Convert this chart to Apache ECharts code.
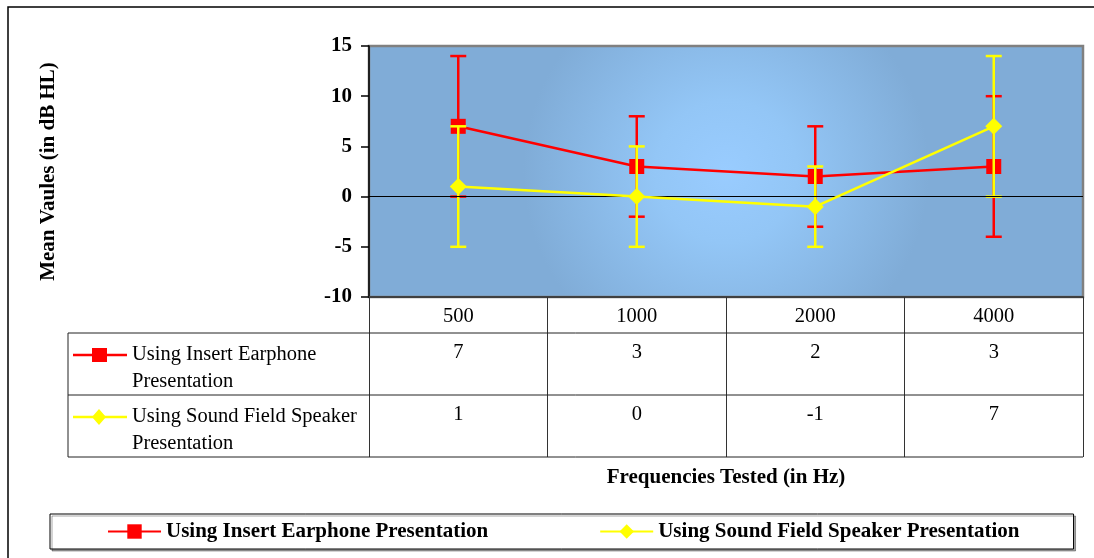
<!DOCTYPE html>
<html>
<head>
<meta charset="utf-8">
<script src="https://cdn.jsdelivr.net/npm/echarts@6/dist/echarts.min.js"></script>
<style>
html,body{margin:0;padding:0;background:#fff;}
#chart{width:1094px;height:558px;}
</style>
</head>
<body>
<div id="chart"></div>
<script>
// ---- data ----
const categories = ['500', '1000', '2000', '4000'];
const earphoneMean = [7, 3, 2, 3];
const earphoneErr = [7, 5, 5, 7];
const speakerMean = [1, 0, -1, 7];
const speakerErr = [6, 5, 4, 7];
const seriesNames = ['Using Insert Earphone Presentation', 'Using Sound Field Speaker Presentation'];
const tableRowLabels = [['Using Insert Earphone', 'Presentation'], ['Using Sound Field Speaker', 'Presentation']];
const yMin = -10, yMax = 15, yInterval = 5;
const yTitle = 'Mean Vaules (in dB HL)';
const xTitle = 'Frequencies Tested (in Hz)';

// ---- style ----
const SERIF = '"Liberation Serif", "Times New Roman", serif';
const RED = '#FF0000';
const YEL = '#FFFF00';
const GRID = { left: 369, top: 46, right: 11, bottom: 261 };
const BOLD_SIZE = 21;
const REG_SIZE = 20.5;

function errData(mean, err) {
  return mean.map((m, i) => [i, m - err[i], m + err[i]]);
}

function errRender(color) {
  return function (params, api) {
    const x = api.value(0);
    const lo = api.coord([x, api.value(1)]);
    const hi = api.coord([x, api.value(2)]);
    const w = 8;
    const style = { stroke: color, lineWidth: 2.5 };
    return {
      type: 'group',
      children: [
        { type: 'line', shape: { x1: hi[0], y1: hi[1], x2: lo[0], y2: lo[1] }, style },
        { type: 'line', shape: { x1: hi[0] - w, y1: hi[1], x2: hi[0] + w, y2: hi[1] }, style },
        { type: 'line', shape: { x1: lo[0] - w, y1: lo[1], x2: lo[0] + w, y2: lo[1] }, style }
      ]
    };
  };
}

const chart = echarts.init(document.getElementById('chart'), null, { renderer: 'canvas' });

const option = {
  animation: false,
  backgroundColor: '#fff',
  grid: Object.assign({
    show: true,
    borderColor: '#808080',
    borderWidth: 2.5,
    backgroundColor: {
      type: 'radial', x: 0.5, y: 0.5, r: 0.8,
      colorStops: [
        { offset: 0, color: '#99CCFF' },
        { offset: 0.35, color: '#93C6F6' },
        { offset: 1, color: '#80ACD7' }
      ]
    }
  }, GRID),
  legend: {
    left: 50,
    top: 514,
    padding: [7, 54, 7, 57],
    itemGap: 111,
    itemWidth: 53,
    itemHeight: 18,
    backgroundColor: '#fff',
    borderColor: '#000',
    borderWidth: 1,
    shadowColor: 'rgba(0,0,0,0.35)',
    shadowOffsetX: 2,
    shadowOffsetY: 2,
    shadowBlur: 0,
    data: seriesNames,
    textStyle: { fontFamily: SERIF, fontWeight: 'bold', fontSize: BOLD_SIZE, color: '#000' }
  },
  xAxis: {
    type: 'category',
    data: categories,
    boundaryGap: true,
    name: xTitle,
    nameLocation: 'middle',
    nameGap: 170,
    nameTextStyle: { fontFamily: SERIF, fontWeight: 'bold', fontSize: BOLD_SIZE, color: '#000' },
    axisLine: { onZero: false, lineStyle: { color: '#404040', width: 2 } },
    axisTick: { show: true, interval: 0, length: 160, lineStyle: { color: '#333', width: 1 } },
    axisLabel: { margin: 9, fontFamily: SERIF, fontSize: REG_SIZE, color: '#000' },
    splitLine: { show: false }
  },
  yAxis: {
    type: 'value',
    min: yMin,
    max: yMax,
    interval: yInterval,
    name: yTitle,
    nameLocation: 'middle',
    nameRotate: 90,
    nameGap: 310,
    nameTextStyle: { fontFamily: SERIF, fontWeight: 'bold', fontSize: BOLD_SIZE, color: '#000' },
    axisLine: { show: true, lineStyle: { color: '#000', width: 1.5 } },
    axisTick: { show: true, length: 8, lineStyle: { color: '#000', width: 1.5 } },
    axisLabel: { margin: 17, fontFamily: SERIF, fontWeight: 'bold', fontSize: 21, color: '#000' },
    splitLine: { show: false }
  },
  series: [
    {
      type: 'custom',
      name: 'earErr',
      z: 2,
      renderItem: errRender(RED),
      data: errData(earphoneMean, earphoneErr),
      encode: { x: 0, y: [1, 2] },
      silent: true,
      markLine: {
        silent: true, symbol: 'none', label: { show: false },
        lineStyle: { color: '#000', width: 1, type: 'solid' },
        data: [{ yAxis: 0 }]
      }
    },
    {
      type: 'line',
      name: seriesNames[0],
      z: 3,
      data: earphoneMean,
      symbol: 'rect',
      symbolSize: 15,
      lineStyle: { color: RED, width: 2.5 },
      itemStyle: { color: RED }
    },
    {
      type: 'custom',
      name: 'spkErr',
      z: 4,
      renderItem: errRender(YEL),
      data: errData(speakerMean, speakerErr),
      encode: { x: 0, y: [1, 2] },
      silent: true
    },
    {
      type: 'line',
      name: seriesNames[1],
      z: 5,
      data: speakerMean,
      symbol: 'diamond',
      symbolSize: 17,
      lineStyle: { color: YEL, width: 2.5 },
      itemStyle: { color: YEL }
    }
  ]
};

chart.setOption(option);

// ---- data table drawn below the plot, positioned from the axis scale ----
const gridRect = chart.getModel().getComponent('grid').coordinateSystem.getRect();
const tableLeft = 68;
const tableRight = gridRect.x + gridRect.width;
const headerBottom = gridRect.y + gridRect.height + 36;
const rowH = 62;
const rows = [
  { mean: earphoneMean, label: tableRowLabels[0], color: RED, symbol: 'rect' },
  { mean: speakerMean, label: tableRowLabels[1], color: YEL, symbol: 'diamond' }
];
const gfx = [];
// outer frame
gfx.push({ type: 'rect', shape: { x: 8, y: 7, width: 1100, height: 600 }, style: { fill: null, stroke: '#000', lineWidth: 1.5 }, z: 0 });
// horizontal table lines
for (let r = 0; r <= rows.length; r++) {
  const y = headerBottom + r * rowH;
  gfx.push({ type: 'line', shape: { x1: tableLeft, y1: y, x2: tableRight, y2: y }, style: { stroke: '#222', lineWidth: 1 }, z: 10 });
}
gfx.push({ type: 'line', shape: { x1: tableLeft, y1: headerBottom, x2: tableLeft, y2: headerBottom + rows.length * rowH }, style: { stroke: '#222', lineWidth: 1 }, z: 10 });
rows.forEach((row, r) => {
  const top = headerBottom + r * rowH;
  const ky = top + 22;
  gfx.push({ type: 'line', shape: { x1: 73, y1: ky, x2: 127, y2: ky }, style: { stroke: row.color, lineWidth: 2.5 }, z: 10 });
  if (row.symbol === 'rect') {
    gfx.push({ type: 'rect', shape: { x: 92, y: ky - 7, width: 15, height: 14 }, style: { fill: row.color }, z: 11 });
  } else {
    gfx.push({ type: 'polygon', shape: { points: [[99, ky - 8], [106, ky], [99, ky + 8], [92, ky]] }, style: { fill: row.color }, z: 11 });
  }
  gfx.push({
    type: 'text', x: 132, y: top + 8, z: 10,
    style: { text: row.label.join('\n'), fill: '#000', font: REG_SIZE + 'px ' + SERIF, lineHeight: 27, align: 'left', verticalAlign: 'top' }
  });
  row.mean.forEach((v, i) => {
    const px = chart.convertToPixel({ xAxisIndex: 0 }, categories[i]);
    gfx.push({
      type: 'text', x: px, y: top + 9, z: 10,
      style: { text: String(v), fill: '#000', font: REG_SIZE + 'px ' + SERIF, align: 'center', verticalAlign: 'top' }
    });
  });
});
chart.setOption({ graphic: gfx });
</script>
</body>
</html>
